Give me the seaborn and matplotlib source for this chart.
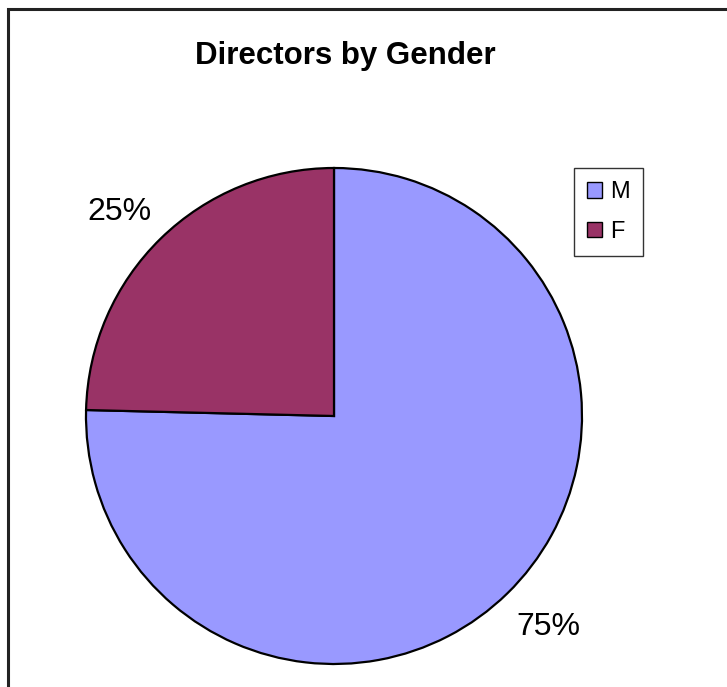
import matplotlib
matplotlib.use("Agg")
import matplotlib.pyplot as plt
import seaborn as sns
from matplotlib.patches import Rectangle

# data
genders = ["M", "F"]
counts = [49, 16]
colors = ["#9999FF", "#993366"]
title = "Directors by Gender"

sns.set_theme(style="white")
plt.rcParams["font.family"] = ["Liberation Sans", "DejaVu Sans"]
plt.rcParams["text.color"] = "black"

fig = plt.figure(figsize=(7.27, 6.87), dpi=100)
W, H = 727, 687

# outer chart frame (left/top visible, runs off right and bottom)
fig.patches.append(Rectangle((7.5 / W, -0.05), 1.2, 1 - 8.5 / H + 0.05,
                             transform=fig.transFigure, fill=False,
                             edgecolor="#222222", linewidth=2.2))

# pie axes: centre (334, 416), radius 248 px
cx, cy, r = 334, 416, 248
ax = fig.add_axes([(cx - r) / W, (H - cy - r) / H, 2 * r / W, 2 * r / H])
wedges, _, autotexts = ax.pie(
    counts, colors=colors, startangle=90, counterclock=False,
    autopct="%.0f%%", pctdistance=1.21,
    wedgeprops=dict(edgecolor="black", linewidth=1.6),
    textprops=dict(fontsize=23, color="black"),
)
ax.set_xlim(-1, 1)
ax.set_ylim(-1, 1)
ax.set_aspect("auto")
ax.axis("off")

# percentage labels sit where the reference puts them (pixel centres)
label_px = [(548, 627), (119, 212)]
for t, (px, py) in zip(autotexts, label_px):
    t.set_position(((px - cx) / r, (cy - py) / r))

fig.text(345 / W, 1 - 56 / H, title, ha="center", va="center",
         fontsize=22.5, fontweight="bold", color="black")

leg = fig.legend(wedges, genders, loc="upper left",
                 bbox_to_anchor=(574 / W, 1 - 168 / H),
                 frameon=True, fancybox=False, fontsize=17,
                 handlelength=0.65, handleheight=0.65, handletextpad=0.35,
                 labelspacing=0.75, borderpad=0.55, borderaxespad=0)
leg.get_frame().set_edgecolor("black")
leg.get_frame().set_linewidth(1.0)
for h in leg.legend_handles:
    h.set_linewidth(1.0)
for t in leg.get_texts():
    t.set_color("black")

fig.savefig("out.png", dpi=100)
